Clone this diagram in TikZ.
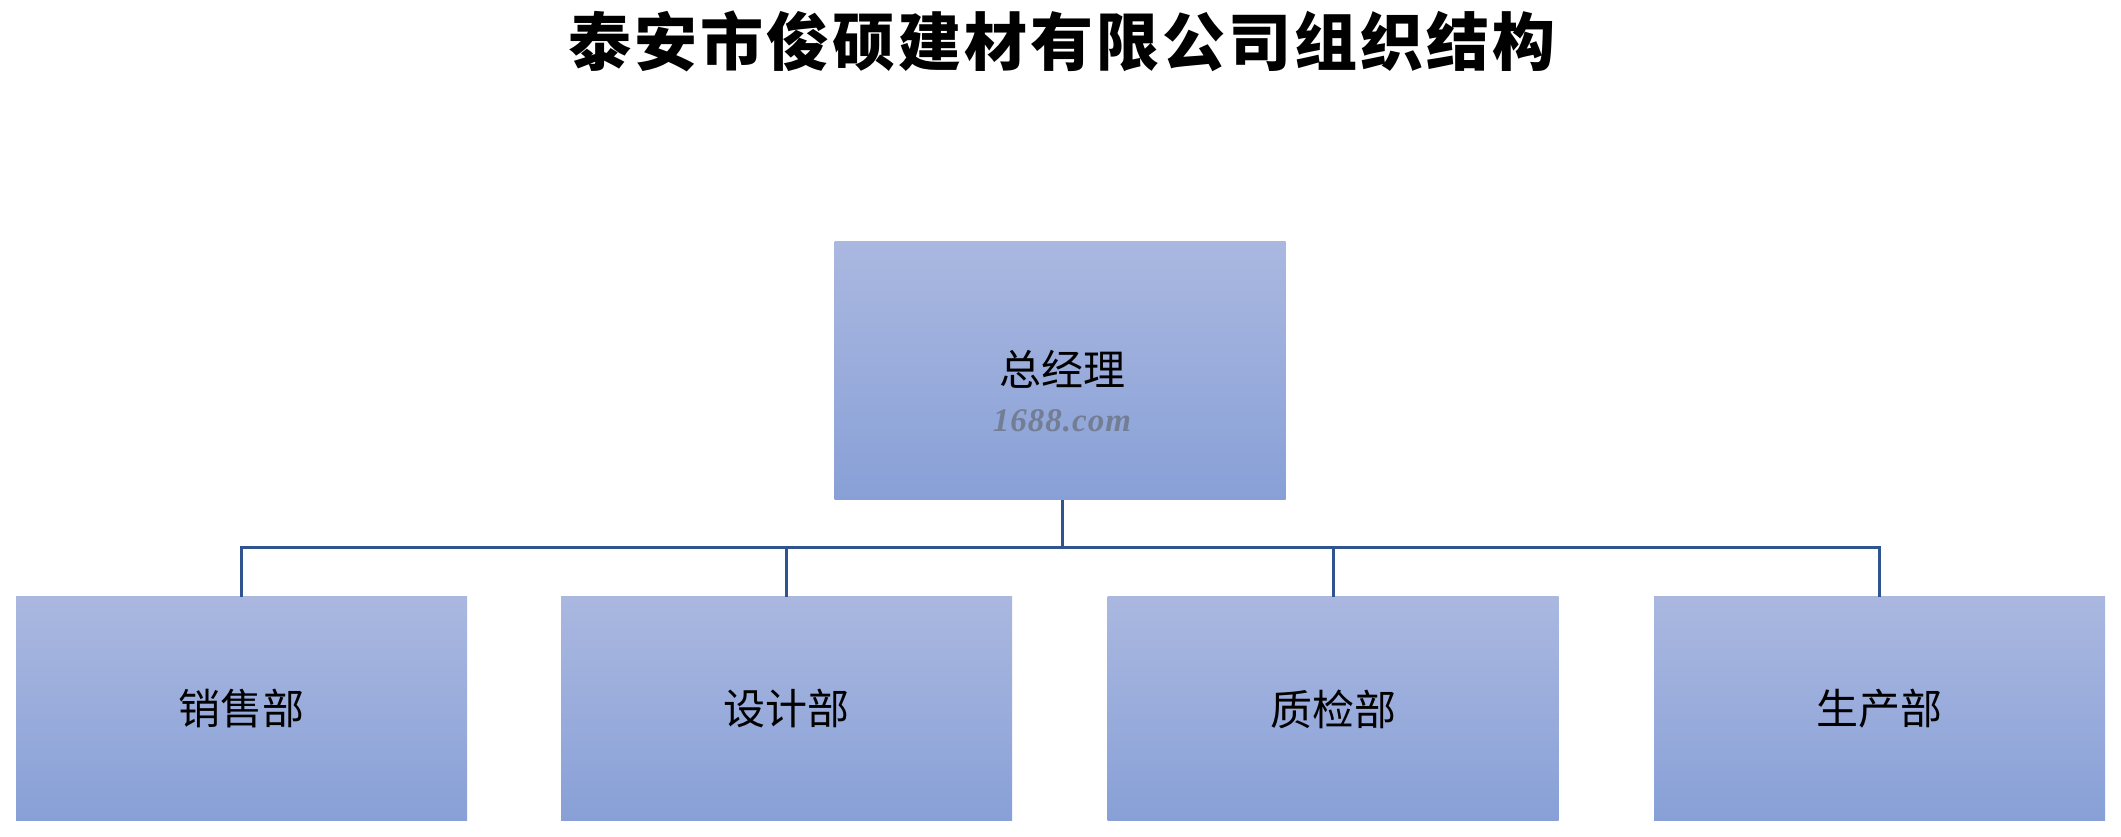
\documentclass[tikz,border=0pt]{standalone}
\usepackage{fontspec}
\newfontfamily\cjk{Noto Sans CJK SC}
\newfontfamily\wmfont{Liberation Serif}
\definecolor{boxtop}{RGB}{170,184,224}
\definecolor{boxbot}{RGB}{136,160,215}
\definecolor{linkcol}{RGB}{47,84,144}
\definecolor{wmcol}{RGB}{110,118,135}
\newcommand{\tsp}{\hspace{3pt}}
\newcommand{\wk}{\kern1pt}
\tikzset{
  orgbox/.style={rectangle, draw=none, top color=boxtop, bottom color=boxbot,
    minimum width=451pt, inner sep=0pt, font=\cjk\fontsize{42}{50}\selectfont, text=black},
  link/.style={draw=linkcol, line width=3pt},
}
\begin{document}
\begin{tikzpicture}[x=1pt,y=1pt]
\useasboundingbox (0,0) rectangle (2121,837);
\fill[white] (0,0) rectangle (2121,837);
\node[font=\cjk\bfseries\fontsize{63}{72}\selectfont] (title) at (1062,796)
  {泰\tsp 安\tsp 市\tsp 俊\tsp 硕\tsp 建\tsp 材\tsp 有\tsp 限\tsp 公\tsp 司\tsp 组\tsp 织\tsp 结\tsp 构};
\node[orgbox, minimum height=258pt] (gm) at (1060,466) {};
\node[font=\cjk\fontsize{42}{50}\selectfont] (gmtext) at (1062,468) {总经理};
\node[font=\wmfont\bfseries\itshape\fontsize{33}{38}\selectfont, text=wmcol, opacity=0.85] (wm) at (1062,416) {1\wk 6\wk 8\wk 8\wk .\wk c\wk o\wk m};
\node[orgbox, minimum height=224pt] (d1) at (241.5,128) {销售部};
\node[orgbox, minimum height=224pt] (d2) at (786.5,128) {设计部};
\node[orgbox, minimum height=224pt] (d3) at (1333,128) {质检部};
\node[orgbox, minimum height=224pt] (d4) at (1879.5,128) {生产部};
\coordinate (bus) at (1062,289);
\draw[link] (gm.south -| bus) -- (bus);
\draw[link] (d1.north) |- (bus) -| (d4.north);
\draw[link] (d2.north) -- (d2.north |- bus);
\draw[link] (d3.north) -- (d3.north |- bus);
\end{tikzpicture}
\end{document}
